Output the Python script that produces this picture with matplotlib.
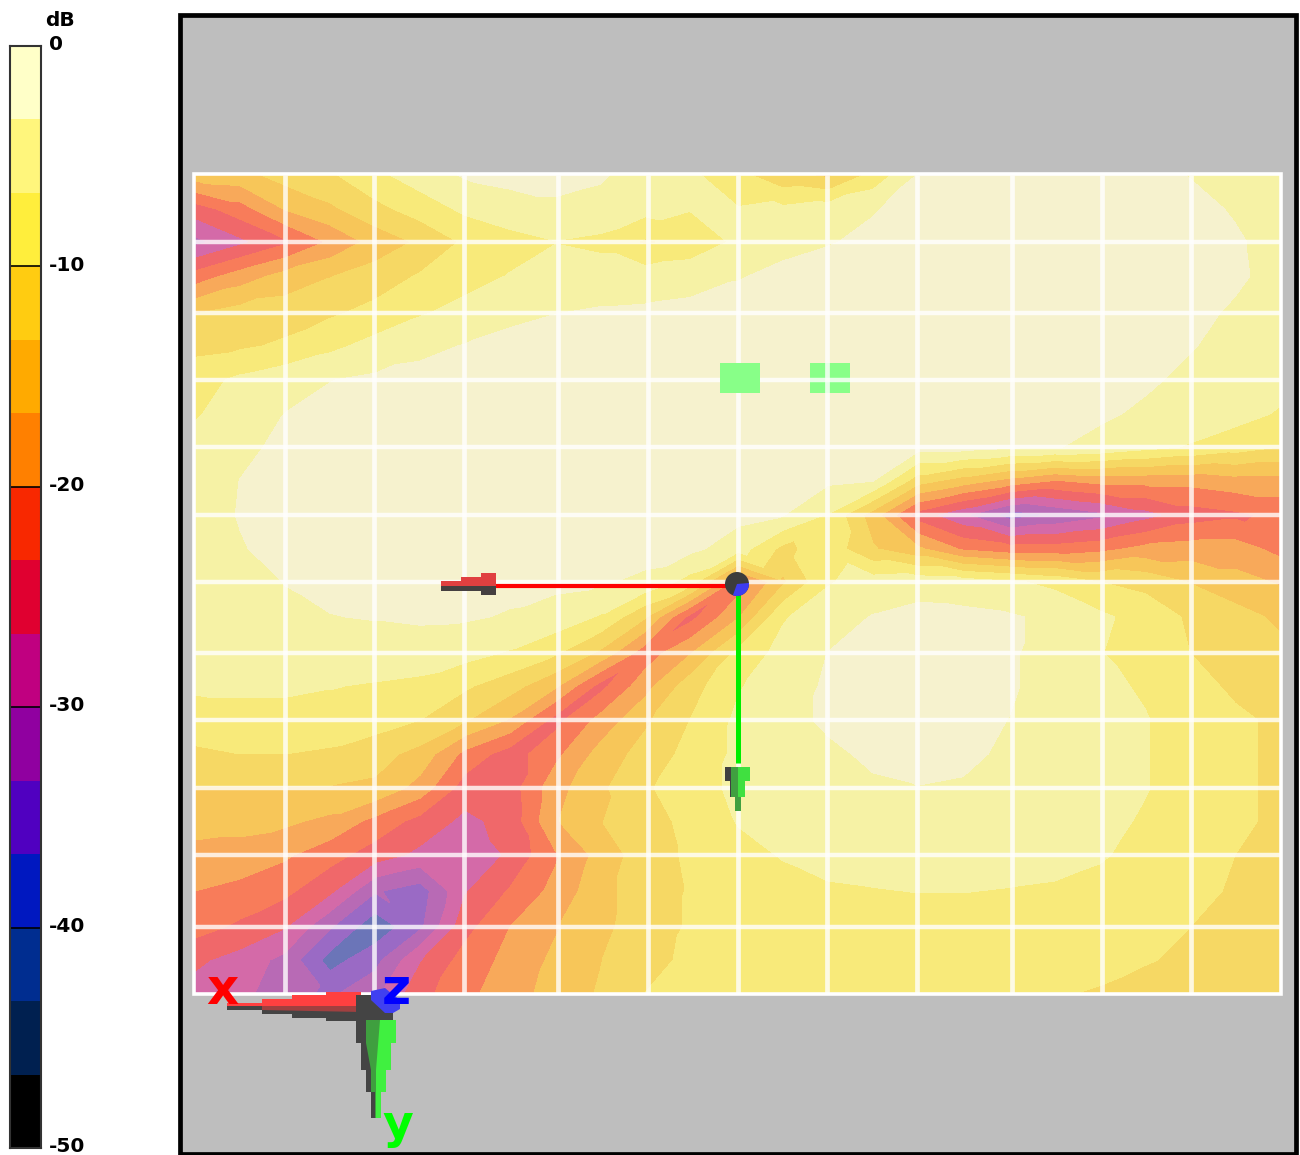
import numpy as np
import matplotlib
matplotlib.use('Agg')
import matplotlib.pyplot as plt
from matplotlib.patches import Rectangle, Polygon, Circle, Wedge

# colour bar
band_colors = ['#FFFFC8', '#FFF67C', '#FFEE3C', '#FFCC11', '#FFAA00', '#FF8000', '#F82800', '#E00030',
               '#C00080', '#9000A0', '#5000C0', '#0018C0', '#002D90', '#002050', '#000000']
# same bands as they look washed out on the map
map_colors = ['#F6F2CE', '#F6F2A5', '#F8EA7A', '#F6D864', '#F7C659', '#F8A95A', '#F87C5A', '#F0686A',
              '#D46AA8', '#B86AB5', '#9A6AC5', '#6B75B8', '#5070A0', '#506080', '#606060']
bar_ticks = [0, -10, -20, -30, -40, -50]

# sample positions on the map, in picture pixels
sample_x = [195, 240, 285, 330, 375, 420, 465, 510, 555, 600, 645, 690, 738,
            783, 828, 873, 918, 963, 1010, 1055, 1100, 1145, 1190, 1235, 1280]
sample_y = [175, 209, 242, 276, 313, 346, 380, 414, 447, 481, 515, 549, 582,
            617, 653, 686, 720, 754, 788, 821, 855, 891, 927, 960, 993]

# level in dB, one row per sample_y
db_rows = [
    [-15, -14.5, -12, -10.5, -7.5, -5, -3, -2.5, -2.5, -3, -4.5, -6, -9, -12.5, -14, -9, -3.2, -2.5, -2.5, -2.5, -2.5, -2.8, -3.4, -4.2, -4.5],
    [-25, -21.5, -16.5, -14, -11, -8.5, -6, -4.5, -3.8, -4.2, -5.5, -6.5, -6.5, -6, -5, -3.5, -2.5, -2.2, -2.2, -2.2, -2.2, -2.4, -2.8, -3.5, -4.2],
    [-31, -27.5, -24, -19.5, -15.5, -12.8, -9.5, -8, -6.8, -7.5, -10.5, -9, -6, -4, -3.5, -2.8, -2, -2, -2, -2, -2, -2.2, -2.5, -3.1, -4],
    [-22, -18.5, -15.5, -13.5, -11.8, -9.7, -8, -6.5, -5, -5, -5, -4.5, -3.5, -2.8, -2.2, -2, -2, -2, -2, -2, -2, -2, -2.3, -3, -4],
    [-13.5, -12, -11.5, -10.5, -9, -7, -5.5, -4, -3.4, -3, -2.8, -2.5, -2.3, -2, -2, -2, -2, -2, -2, -2, -2, -2.2, -2.8, -3.6, -5],
    [-11, -10.5, -9.5, -7.5, -5.5, -4, -3.2, -2.5, -2.2, -2, -2, -2, -2, -2, -2, -2, -2, -2, -2, -2, -2.3, -2.8, -3.2, -4, -5],
    [-8, -6, -4.5, -3.4, -2.8, -2.5, -2.2, -2, -2, -2, -2, -2, -2, -2, -2, -2, -2, -2, -2, -2, -2.5, -3, -3.8, -4.5, -5.5],
    [-7, -5, -3.3, -2.6, -2.2, -2, -2, -2, -2, -2, -2, -2, -2, -2, -2, -2, -2, -2, -2, -2, -3, -3.7, -4.5, -5.5, -7],
    [-5.5, -3.8, -2.9, -2.2, -2, -2, -2, -2, -2, -2, -2, -2, -2, -2, -2, -2, -2, -2, -2.8, -3.2, -4, -5.5, -7, -8.5, -10],
    [-5, -3.3, -2.5, -2.2, -2, -2, -2, -2, -2, -2, -2, -2, -2, -2, -2.8, -3.3, -12, -15, -18, -20.3, -19, -19, -19, -18, -18],
    [-4.5, -3.2, -2.5, -2.2, -2, -2, -2, -2, -2, -2, -2, -2, -2.5, -3.2, -7, -15, -25, -29.5, -35, -33, -31, -28, -25, -24, -22.5],
    [-4.5, -3.5, -2.6, -2.1, -2, -2, -2, -2, -2, -2, -2.2, -2.6, -5, -11, -8, -13, -16, -20.5, -22, -22, -21, -19, -18.5, -18.5, -21],
    [-4.5, -4, -3.3, -2.8, -2.4, -2.2, -2.3, -2.5, -2.7, -3, -4, -8, -22, -14, -7, -5, -4.5, -5, -6.2, -7.5, -10, -11, -13.5, -15.5, -17],
    [-5, -4.2, -3.6, -3.4, -3.2, -2.9, -3, -3.6, -4.5, -7, -13, -24.5, -17, -7, -4.5, -3.2, -2.5, -2.6, -3, -4, -6, -8, -10.5, -12, -14],
    [-5.5, -5, -4.8, -4.5, -4.5, -4.8, -5.5, -7, -9.5, -14, -22, -17, -9, -5.5, -3.3, -2.3, -2, -2.3, -3, -4.5, -6.5, -8.5, -10, -11, -12.5],
    [-6, -6, -6, -6.5, -7, -7.5, -9.5, -12, -16, -24.5, -18, -11.5, -7, -4.5, -3, -2.5, -2, -2.3, -3, -4.5, -6, -7, -9, -10.5, -11.5],
    [-8.5, -8, -8, -8, -8.5, -10, -13, -17, -24.5, -19, -14, -10, -6, -4, -3, -2.4, -2, -2.4, -3.4, -4.5, -5.5, -6.5, -8, -9.5, -10.5],
    [-10.5, -10, -10, -10.5, -12, -14.5, -21, -25, -21, -15.5, -12, -9, -6, -4.5, -3.7, -3, -2.5, -2.8, -3.8, -4.5, -5.5, -6.5, -8, -9.5, -10.5],
    [-13.5, -13.5, -13.5, -13.5, -14, -18, -25, -25, -18, -14, -10.5, -8, -6, -4.5, -4, -3.6, -3.4, -3.6, -4, -4.6, -5.5, -6.5, -8, -9.5, -10.5],
    [-15, -15.5, -16, -17.5, -21, -24.5, -27.5, -25.5, -17, -13.5, -11.5, -9, -6.5, -5.3, -4.8, -4.5, -4.3, -4.3, -4.5, -5, -5.8, -7, -8.3, -9.5, -10.5],
    [-18, -18, -19.5, -22, -25, -27.5, -30, -26, -20.5, -15.5, -11.5, -9.5, -7.5, -6.5, -5.8, -5.5, -5.5, -5.5, -5.5, -5.8, -6.4, -7.5, -8.7, -10, -10.8],
    [-20, -21, -22.5, -26, -33, -35, -27, -23, -19, -14.5, -11.5, -9.8, -8.5, -7.5, -7, -6.8, -6.6, -6.6, -6.8, -7, -7.5, -8.3, -9.5, -10.2, -11],
    [-22, -24, -26.5, -33, -39, -34, -24.5, -20, -17, -14.5, -11, -9.8, -9.2, -8.6, -8.3, -8, -7.8, -7.8, -8, -8.2, -8.6, -9, -10, -10.8, -11.2],
    [-26, -28, -31, -38, -34.5, -27, -22, -19, -16, -13.5, -10.5, -9.7, -9.3, -9, -8.8, -8.6, -8.5, -8.5, -8.7, -9, -9.3, -9.8, -10.5, -11, -11.5],
    [-28, -29, -32, -34, -31, -24.5, -21, -18, -15.5, -13, -10, -9.5, -9.2, -9.1, -9, -8.9, -8.9, -9.1, -9.4, -9.8, -10.2, -11, -11.5, -12, -12.5],
]

grid_x = [285, 374, 464, 558, 648, 738, 827, 917, 1012, 1102, 1191]
grid_y = [242, 313, 380, 447, 515, 582, 653, 720, 788, 855, 927]

W, H = 1300, 1155
fig = plt.figure(figsize=(W / 100, H / 100), dpi=100, facecolor='white')

ax = fig.add_axes([0, 0, 1, 1])
ax.set_xlim(0, W)
ax.set_ylim(H, 0)
ax.axis('off')

# grey panel
ax.add_patch(Rectangle((179.5, 14.5), 1116, 1139, facecolor='#BEBEBE', edgecolor='black', linewidth=3.4, zorder=1))

# split each cell along the diagonal with the closest values, so ridges stay connected
levels = np.linspace(-50, 0, len(band_colors) + 1)
db = np.array(db_rows)
xx, yy = np.meshgrid(sample_x, sample_y)
triangles = []
ncol = len(sample_x)
for r in range(len(sample_y) - 1):
    for c in range(ncol - 1):
        a, b, d, e = r * ncol + c, r * ncol + c + 1, (r + 1) * ncol + c, (r + 1) * ncol + c + 1
        if abs(db[r, c] - db[r + 1, c + 1]) <= abs(db[r, c + 1] - db[r + 1, c]):
            triangles += [[a, b, e], [a, e, d]]
        else:
            triangles += [[a, b, d], [b, e, d]]
ax.tricontourf(xx.ravel(), yy.ravel(), triangles, db.ravel(), levels=levels, colors=map_colors[::-1],
               antialiased=False, zorder=3)

# green markers, the second one sits under the grid
ax.add_patch(Rectangle((810, 363), 40, 30, facecolor='#88FF88', edgecolor='none', zorder=4))

for gx in grid_x:
    ax.plot([gx, gx], [175, 993], color='white', alpha=0.8, linewidth=3.4, solid_capstyle='butt', zorder=5)
for gy in grid_y:
    ax.plot([195, 1281], [gy, gy], color='white', alpha=0.8, linewidth=3.2, solid_capstyle='butt', zorder=5)
ax.add_patch(Rectangle((194, 174), 1087, 819.5, facecolor='none', edgecolor='white', linewidth=2.6, zorder=6))
ax.add_patch(Rectangle((720, 363), 40, 30, facecolor='#88FF88', edgecolor='none', zorder=7))

# centre arrows
ax.plot([496, 738], [586, 586], color='#FF0000', linewidth=3, solid_capstyle='butt', zorder=8)
ax.plot([738, 738], [590, 763], color='#00EE00', linewidth=3.6, solid_capstyle='butt', zorder=8)
ax.add_patch(Polygon([(441, 581), (461, 581), (461, 577), (481, 577), (481, 573), (496, 573), (496, 586), (441, 586)],
                     facecolor='#E04040', edgecolor='none', zorder=9))
ax.add_patch(Polygon([(441, 586), (496, 586), (496, 595), (481, 595), (481, 591), (441, 591)],
                     facecolor='#454040', edgecolor='none', zorder=9))
ax.add_patch(Polygon([(725, 767), (750, 767), (750, 781), (745, 781), (745, 797), (741, 797), (741, 811), (735, 811),
                      (735, 797), (730, 797), (730, 781), (725, 781)],
                     facecolor='#40A040', edgecolor='none', zorder=9))
ax.add_patch(Polygon([(738, 767), (750, 767), (750, 781), (745, 781), (745, 797), (738, 797)],
                     facecolor='#40E040', edgecolor='none', zorder=9))
ax.add_patch(Polygon([(725, 767), (731, 767), (731, 797), (730, 797), (730, 781), (725, 781)],
                     facecolor='#404040', edgecolor='none', zorder=9))
ax.add_patch(Circle((737, 584), 12, facecolor='#3C3C3C', edgecolor='none', zorder=10))
ax.add_patch(Wedge((737, 584), 12, -5, 110, facecolor='#3C3CF0', edgecolor='none', zorder=11))

# axis triad in the corner
ax.add_patch(Polygon([(227, 1003), (262, 1003), (262, 999), (292, 999), (292, 995), (326, 995), (326, 992), (361, 992),
                      (361, 1006), (227, 1006)], facecolor='#FF4040', edgecolor='none', zorder=8))
ax.add_patch(Polygon([(227, 1006), (361, 1006), (361, 1021), (326, 1021), (326, 1018), (292, 1018), (292, 1014),
                      (262, 1014), (262, 1010), (227, 1010)], facecolor='#444444', edgecolor='none', zorder=8))
ax.add_patch(Polygon([(262, 1006), (361, 1006), (361, 1012), (262, 1010)], facecolor='#A04040', edgecolor='none', zorder=8))
ax.add_patch(Polygon([(356, 1020), (396, 1020), (396, 1043), (391, 1043), (391, 1070), (386, 1070), (386, 1092),
                      (381, 1092), (381, 1118), (371, 1118), (371, 1092), (366, 1092), (366, 1070), (361, 1070),
                      (361, 1043), (356, 1043)], facecolor='#444444', edgecolor='none', zorder=8))
ax.add_patch(Polygon([(366, 1020), (396, 1020), (396, 1043), (391, 1043), (391, 1070), (386, 1070), (386, 1092),
                      (381, 1092), (381, 1118), (375, 1118), (375, 1092), (371, 1092), (371, 1070), (366, 1043)],
                     facecolor='#3F9F3F', edgecolor='none', zorder=9))
ax.add_patch(Polygon([(380, 1020), (396, 1020), (396, 1043), (391, 1043), (391, 1070), (386, 1070), (386, 1092),
                      (381, 1092), (381, 1118), (376, 1118), (376, 1070)], facecolor='#40F040', edgecolor='none', zorder=10))
ax.add_patch(Rectangle((356, 995), 37, 25, facecolor='#444444', edgecolor='none', zorder=11))
ax.add_patch(Polygon([(371, 991), (385, 988), (392, 994), (400, 1000), (400, 1009), (393, 1013), (385, 1013), (371, 1000)],
                     facecolor='#4040F0', edgecolor='none', zorder=12))

ax.text(222, 990, 'x', color='#FF0000', fontsize=36, fontweight='bold', ha='center', va='center', family='DejaVu Sans', zorder=13)
ax.text(396, 990, 'z', color='#0000FF', fontsize=36, fontweight='bold', ha='center', va='center', family='DejaVu Sans', zorder=13)
ax.text(398, 1126, 'y', color='#00FF00', fontsize=34, fontweight='bold', ha='center', va='center', family='DejaVu Sans', zorder=13)

# colour bar on its own axes, so the bands follow the dB scale
cax = fig.add_axes([10 / W, 1 - 1148 / H, 31 / W, (1148 - 46) / H])
cax.bar(0, [levels[1] - levels[0]] * len(band_colors), bottom=levels[:-1], width=1,
        color=band_colors[::-1], align='center')
cax.set_xlim(-0.5, 0.5)
cax.set_ylim(-50, 0)
cax.set_xticks([])
cax.set_yticks([])
for t in bar_ticks:
    cax.annotate(str(t), (1, t), xycoords=('axes fraction', 'data'), xytext=(5.5, 1), textcoords='offset points',
                 va='center', fontsize=14.5, fontweight='bold', family='DejaVu Sans', annotation_clip=False)
for t in bar_ticks[1:-1]:
    cax.axhline(t, color='black', linewidth=1.2)
for spine in cax.spines.values():
    spine.set_linewidth(1.5)
    spine.set_color('#333333')
ax.text(60, 21, 'dB', fontsize=14.5, fontweight='bold', ha='center', va='center', family='DejaVu Sans')

fig.savefig('out.png', dpi=100)
